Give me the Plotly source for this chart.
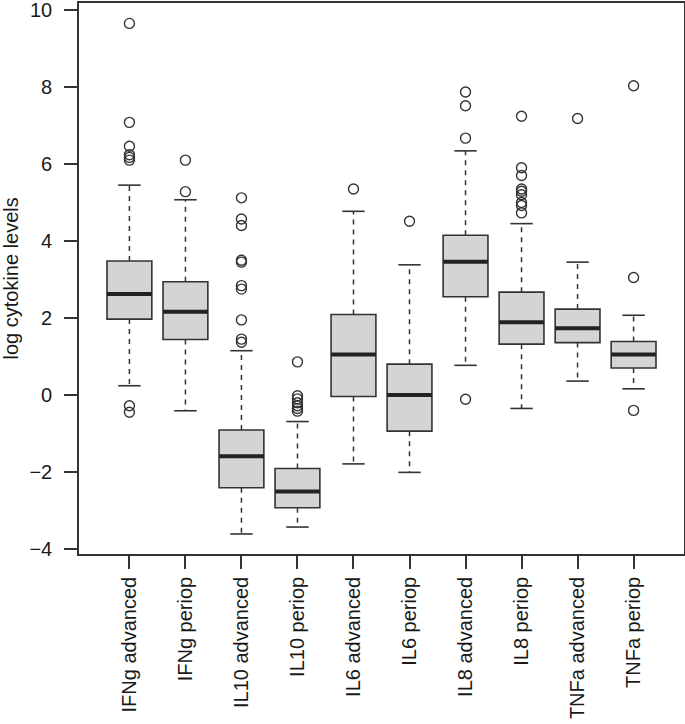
import plotly.graph_objects as go

categories = ["IFNg advanced", "IFNg periop", "IL10 advanced", "IL10 periop",
              "IL6 advanced", "IL6 periop", "IL8 advanced", "IL8 periop",
              "TNFa advanced", "TNFa periop"]
q1 = [1.97, 1.44, -2.41, -2.93, -0.04, -0.94, 2.55, 1.32, 1.36, 0.70]
median = [2.62, 2.16, -1.59, -2.51, 1.05, 0.00, 3.46, 1.89, 1.73, 1.05]
q3 = [3.48, 2.94, -0.91, -1.91, 2.09, 0.80, 4.15, 2.67, 2.23, 1.39]
whisk_lo = [0.24, -0.41, -3.61, -3.43, -1.79, -2.01, 0.77, -0.35, 0.36, 0.16]
whisk_hi = [5.45, 5.07, 1.15, -0.69, 4.77, 3.38, 6.34, 4.45, 3.45, 2.07]
outliers = [
    [9.65, 7.08, 6.46, 6.24, 6.17, 6.10, -0.28, -0.45],
    [6.10, 5.28],
    [5.12, 4.57, 4.40, 3.50, 3.45, 2.84, 2.75, 1.95, 1.45, 1.37],
    [0.86, -0.02, -0.10, -0.20, -0.28, -0.35, -0.42],
    [5.35],
    [4.51],
    [7.87, 7.51, 6.67, -0.11],
    [7.24, 5.90, 5.70, 5.35, 5.29, 5.20, 5.00, 4.92, 4.73],
    [7.18],
    [8.03, 3.05, -0.40],
]
y_ticks = [-4, -2, 0, 2, 4, 6, 8, 10]
y_title = "log cytokine levels"

positions = list(range(1, len(categories) + 1))
BOXW = 0.8
CAPW = 0.4
LINE = "#333333"
TXT = "#1a1a1a"

fig = go.Figure()

# boxes
for p, a, m, b, name in zip(positions, q1, median, q3, categories):
    fig.add_trace(go.Box(
        x=[p], q1=[a], median=[m], q3=[b], lowerfence=[a], upperfence=[b],
        width=BOXW, whiskerwidth=0, fillcolor="#d4d4d4",
        line=dict(color=LINE, width=1.6), boxpoints=False,
        name=name, showlegend=False, hoverinfo="skip"))

# dashed whiskers
wx, wy = [], []
for p, a, b, lo, hi in zip(positions, q1, q3, whisk_lo, whisk_hi):
    wx += [p, p, None, p, p, None]
    wy += [b, hi, None, a, lo, None]
fig.add_trace(go.Scatter(x=wx, y=wy, mode="lines",
                         line=dict(color=LINE, width=1.5, dash="5px,5px"),
                         showlegend=False, hoverinfo="skip"))

# caps
cx, cy = [], []
for p, lo, hi in zip(positions, whisk_lo, whisk_hi):
    cx += [p - CAPW / 2, p + CAPW / 2, None, p - CAPW / 2, p + CAPW / 2, None]
    cy += [hi, hi, None, lo, lo, None]
fig.add_trace(go.Scatter(x=cx, y=cy, mode="lines",
                         line=dict(color=LINE, width=1.6),
                         showlegend=False, hoverinfo="skip"))

# thick medians
mx, my = [], []
for p, m in zip(positions, median):
    mx += [p - BOXW / 2, p + BOXW / 2, None]
    my += [m, m, None]
fig.add_trace(go.Scatter(x=mx, y=my, mode="lines",
                         line=dict(color="#222222", width=4),
                         showlegend=False, hoverinfo="skip"))

# outliers
ox, oy = [], []
for p, outs in zip(positions, outliers):
    for v in outs:
        ox.append(p)
        oy.append(v)
fig.add_trace(go.Scatter(x=ox, y=oy, mode="markers",
                         marker=dict(symbol="circle-open", size=10,
                                     color=LINE, line=dict(width=1.4)),
                         showlegend=False, hoverinfo="skip"))

fig.update_layout(
    width=685, height=724,
    margin=dict(l=79, r=1, t=3, b=170, autoexpand=False),
    paper_bgcolor="white", plot_bgcolor="white",
    font=dict(family="Liberation Sans, Arial, sans-serif", size=20, color=TXT),
    showlegend=False,
)
fig.add_annotation(
    text=y_title, textangle=-90, xref="paper", yref="paper",
    x=0, y=0.5, xanchor="center", yanchor="middle", xshift=-69,
    showarrow=False, font=dict(size=20, color=TXT), borderpad=0,
)
fig.update_xaxes(
    range=[0.1, 10.9], tickmode="array", tickvals=positions, ticktext=categories,
    tickangle=-90, ticks="outside", ticklen=13, tickwidth=1.5, tickcolor=LINE,
    showline=True, linecolor=LINE, linewidth=1.6, mirror=True,
    showgrid=False, zeroline=False, ticklabelstandoff=0, automargin=False,
    ticklabeloverflow="allow",
)
fig.update_yaxes(
    range=[-4.13, 10.18], tickmode="array", tickvals=y_ticks,
    ticks="outside", ticklen=13, tickwidth=1.5, tickcolor=LINE,
    showline=True, linecolor=LINE, linewidth=1.6, mirror=True,
    showgrid=False, zeroline=False, ticklabelstandoff=8, automargin=False,
    ticklabeloverflow="allow",
)

fig.write_html(
    "out.html",
    config={"displayModeBar": False},
    post_script="document.body.style.margin='0';document.body.style.padding='0';",
)
